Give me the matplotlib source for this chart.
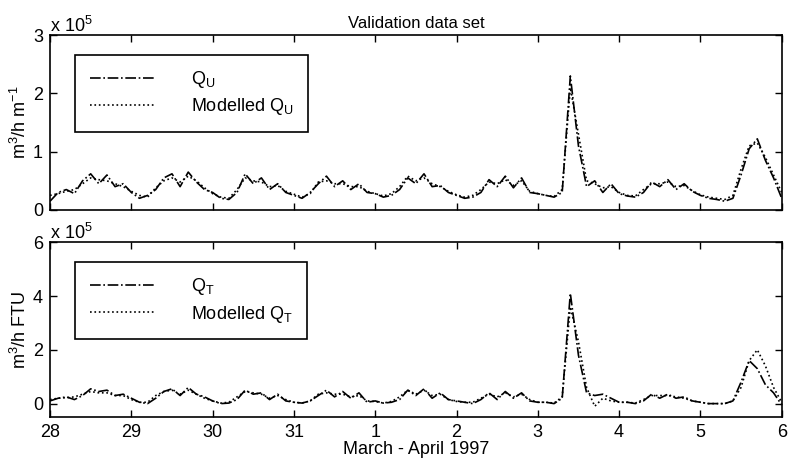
import numpy as np
import matplotlib.pyplot as plt

plt.rcParams['font.family'] = ['Liberation Sans', 'DejaVu Sans']

# days since 28 March 1997, 0.1 day steps
t = np.arange(91) / 10.0
day_ticks = [0, 1, 2, 3, 4, 5, 6, 7, 8, 9]
day_labels = ['28', '29', '30', '31', '1', '2', '3', '4', '5', '6']

# top panel, x 10^5 m3/h m-1
qu = [0.15, 0.30, 0.35, 0.28, 0.50, 0.62, 0.45, 0.60, 0.40, 0.45,
      0.30, 0.20, 0.25, 0.35, 0.55, 0.62, 0.40, 0.65, 0.48, 0.35,
      0.30, 0.20, 0.18, 0.30, 0.62, 0.45, 0.55, 0.35, 0.45, 0.30,
      0.25, 0.20, 0.30, 0.45, 0.58, 0.40, 0.50, 0.35, 0.45, 0.30,
      0.28, 0.22, 0.25, 0.35, 0.55, 0.45, 0.62, 0.40, 0.42, 0.30,
      0.25, 0.20, 0.22, 0.30, 0.52, 0.40, 0.58, 0.38, 0.55, 0.30,
      0.28, 0.25, 0.22, 0.30, 2.30, 1.10, 0.40, 0.50, 0.30, 0.45,
      0.28, 0.24, 0.22, 0.30, 0.48, 0.40, 0.52, 0.35, 0.45, 0.32,
      0.25, 0.20, 0.18, 0.15, 0.20, 0.60, 1.05, 1.22, 0.85, 0.55,
      0.20]
qu_mod = [0.25, 0.28, 0.32, 0.35, 0.45, 0.55, 0.52, 0.50, 0.45, 0.40,
          0.32, 0.25, 0.22, 0.38, 0.50, 0.55, 0.48, 0.58, 0.50, 0.38,
          0.28, 0.22, 0.20, 0.35, 0.55, 0.50, 0.48, 0.40, 0.42, 0.32,
          0.27, 0.22, 0.28, 0.48, 0.50, 0.45, 0.45, 0.40, 0.40, 0.32,
          0.28, 0.24, 0.28, 0.40, 0.58, 0.50, 0.55, 0.45, 0.40, 0.32,
          0.26, 0.22, 0.25, 0.35, 0.48, 0.45, 0.52, 0.42, 0.50, 0.32,
          0.28, 0.25, 0.23, 0.35, 2.10, 1.30, 0.50, 0.45, 0.38, 0.40,
          0.30, 0.25, 0.24, 0.35, 0.45, 0.45, 0.48, 0.40, 0.42, 0.33,
          0.26, 0.22, 0.20, 0.18, 0.25, 0.70, 1.10, 1.15, 0.90, 0.60,
          0.30]

# bottom panel, x 10^5 m3/h FTU
qt = [0.10, 0.20, 0.25, 0.15, 0.30, 0.55, 0.45, 0.50, 0.30, 0.35,
      0.20, 0.05, 0.00, 0.20, 0.45, 0.55, 0.30, 0.60, 0.35, 0.25,
      0.10, 0.00, 0.02, 0.15, 0.50, 0.35, 0.40, 0.15, 0.35, 0.10,
      0.05, 0.02, 0.10, 0.30, 0.50, 0.25, 0.45, 0.20, 0.40, 0.05,
      0.10, 0.02, 0.05, 0.15, 0.50, 0.30, 0.55, 0.20, 0.40, 0.15,
      0.10, 0.05, 0.00, 0.15, 0.40, 0.15, 0.45, 0.20, 0.40, 0.10,
      0.05, 0.05, 0.00, 0.20, 4.10, 1.80, 0.40, 0.30, 0.35, 0.20,
      0.05, 0.05, 0.00, 0.10, 0.35, 0.20, 0.35, 0.20, 0.25, 0.10,
      0.05, 0.00, 0.00, 0.00, 0.10, 0.80, 1.60, 1.30, 0.70, 0.40,
      -0.05]
qt_mod = [0.15, 0.20, 0.22, 0.25, 0.35, 0.45, 0.40, 0.40, 0.30, 0.30,
          0.15, 0.05, 0.05, 0.30, 0.45, 0.50, 0.35, 0.50, 0.35, 0.20,
          0.10, 0.02, 0.05, 0.25, 0.45, 0.40, 0.35, 0.20, 0.30, 0.15,
          0.05, 0.02, 0.10, 0.35, 0.40, 0.35, 0.35, 0.25, 0.30, 0.10,
          0.08, 0.02, 0.08, 0.25, 0.50, 0.35, 0.50, 0.30, 0.35, 0.15,
          0.08, 0.05, 0.05, 0.20, 0.35, 0.25, 0.40, 0.25, 0.35, 0.15,
          0.05, 0.05, 0.02, 0.25, 3.60, 2.30, 0.60, -0.10, 0.20, 0.10,
          0.05, 0.05, 0.02, 0.15, 0.30, 0.30, 0.30, 0.25, 0.20, 0.10,
          0.05, 0.00, 0.00, 0.00, 0.10, 0.60, 1.60, 2.00, 1.40, 0.60,
          0.05]

fig = plt.figure(figsize=(7.88, 4.75), dpi=100)
ax1 = fig.add_axes([0.0635, 0.558, 0.9285, 0.368])
ax2 = fig.add_axes([0.0635, 0.122, 0.9285, 0.368])

def style(ax):
    ax.tick_params(direction='in', top=True, right=True, length=5,
                   width=1, labelsize=13, pad=5)
    for s in ax.spines.values():
        s.set_linewidth(1.2)
    ax.set_xlim(0, 9)
    ax.set_xticks(day_ticks)

ax1.plot(t, qu, color='black', lw=1.2, ls='-.', label='Q$_\\mathregular{U}$')
ax1.plot(t, qu_mod, color='black', lw=1.2, ls=':', label='Modelled Q$_\\mathregular{U}$')
style(ax1)
ax1.set_ylim(0, 3)
ax1.set_yticks([0, 1, 2, 3])
ax1.set_xticklabels([])
ax1.set_ylabel('m$^\\mathregular{3}$/h m$^\\mathregular{-1}$', fontsize=13, labelpad=2)
ax1.set_title('Validation data set', fontsize=12, pad=5)
ax1.text(0.0, 1.02, 'x 10$^\\mathregular{5}$', transform=ax1.transAxes, fontsize=13)

ax2.plot(t, qt, color='black', lw=1.2, ls='-.', label='Q$_\\mathregular{T}$')
ax2.plot(t, qt_mod, color='black', lw=1.2, ls=':', label='Modelled Q$_\\mathregular{T}$')
style(ax2)
ax2.set_ylim(-0.5, 6)
ax2.set_yticks([0, 2, 4, 6])
ax2.set_xticklabels(day_labels)
ax2.set_ylabel('m$^\\mathregular{3}$/h FTU', fontsize=13, labelpad=2)
ax2.set_xlabel('March - April 1997', fontsize=13, labelpad=0)
ax2.text(0.0, 1.02, 'x 10$^\\mathregular{5}$', transform=ax2.transAxes, fontsize=13)

for ax in (ax1, ax2):
    leg = ax.legend(loc='upper left', bbox_to_anchor=(0.022, 0.94), fontsize=13,
                    handlelength=3.6, handletextpad=2.0, borderpad=0.8,
                    labelspacing=0.35, fancybox=False, framealpha=1,
                    edgecolor='black')
    leg.get_frame().set_linewidth(1.2)

fig.savefig('out.png', dpi=100)
